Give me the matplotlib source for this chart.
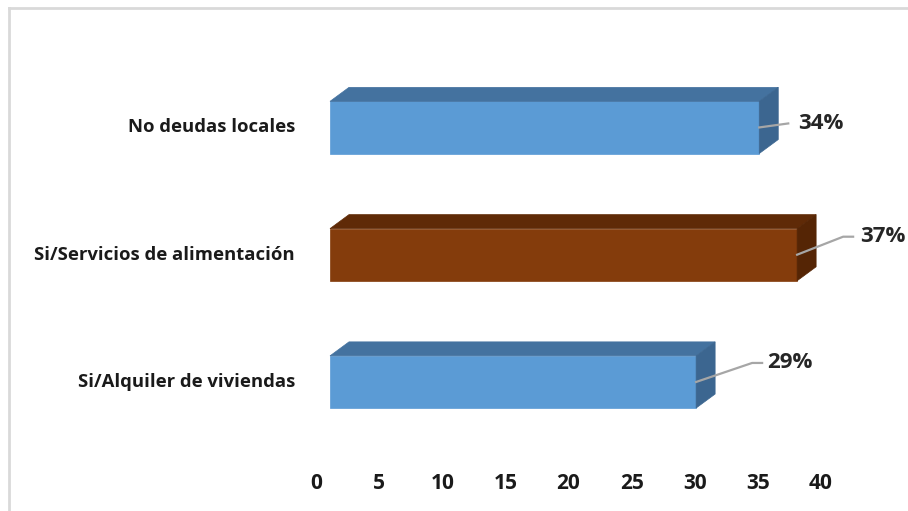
import matplotlib
matplotlib.use("Agg")
import matplotlib.pyplot as plt
from matplotlib.patches import Polygon, Rectangle
from matplotlib.lines import Line2D
from matplotlib.transforms import ScaledTranslation, blended_transform_factory

# Data
categories = ["Si/Alquiler de viviendas", "Si/Servicios de alimentación", "No deudas locales"]
values = [29, 37, 34]
value_labels = ["29%", "37%", "34%"]
x_ticks = [0, 5, 10, 15, 20, 25, 30, 35, 40]

# Styles
front_colors = ["#5B9BD5", "#843C0C", "#5B9BD5"]
top_colors = ["#44729F", "#5F2A07", "#44729F"]
side_colors = ["#3C6690", "#552505", "#3C6690"]
# leader line bend / label anchor offsets in pixels (dx, dy) from the bar end
leader_bend = [(56, 19), (46, 18), (29, 4)]
leader_tail = [(10, 0), (10, 0), (0, 0)]
label_gap = [5, 7, 10]
FONT = "Open Sans"

DPI = 100
W, H = 908, 511
fig = plt.figure(figsize=(W / DPI, H / DPI), dpi=DPI)
fig.patch.set_facecolor("white")

# axes geometry in pixels: x=0 at 330 px, x=40 at 835 px
ax_left, ax_right = 330, 835
ax_top, ax_bottom = 32, 477.4
ax = fig.add_axes([ax_left / W, 1 - ax_bottom / H, (ax_right - ax_left) / W, (ax_bottom - ax_top) / H])
ax.set_xlim(0, 40)
ax.set_ylim(-0.75, 2.75)
ax.axis("off")

bar_h = 0.41
depth_dx, depth_dy = 19, 14  # pixels

def px(dx, dy):
    return ScaledTranslation(dx / DPI, dy / DPI, fig.dpi_scale_trans)

fig.canvas.draw()
to_disp = ax.transData.transform
disp_to_fig = fig.transFigure.inverted()

for i, (v, fc, tc, sc) in enumerate(zip(values, front_colors, top_colors, side_colors)):
    y0, y1 = i - bar_h / 2, i + bar_h / 2
    br = to_disp((v, y0))
    tl = to_disp((0, y1)); tr = to_disp((v, y1))
    off = (depth_dx, depth_dy)
    top = [tl, tr, (tr[0] + off[0], tr[1] + off[1]), (tl[0] + off[0], tl[1] + off[1])]
    side = [br, tr, (tr[0] + off[0], tr[1] + off[1]), (br[0] + off[0], br[1] + off[1])]
    for poly, c in ((top, tc), (side, sc)):
        fig.add_artist(Polygon([disp_to_fig.transform(p) for p in poly], closed=True,
                               facecolor=c, edgecolor=c, linewidth=0.5,
                               transform=fig.transFigure, zorder=2))
    ax.add_patch(Rectangle((0, y0), v, bar_h, facecolor=fc, edgecolor=fc, linewidth=0.5, zorder=3))

    # leader line and value label
    start = to_disp((v, i))
    bend = (start[0] + leader_bend[i][0], start[1] + leader_bend[i][1])
    end = (bend[0] + leader_tail[i][0], bend[1] + leader_tail[i][1])
    pts = [disp_to_fig.transform(p) for p in (start, bend, end)]
    fig.add_artist(Line2D([p[0] for p in pts], [p[1] for p in pts], color="#A6A6A6",
                          linewidth=1.6, transform=fig.transFigure, zorder=5))
    lab = disp_to_fig.transform((end[0] + label_gap[i], end[1]))
    fig.text(lab[0], lab[1], value_labels[i], ha="left", va="center", fontsize=16,
             fontweight="bold", color="#262626", family=FONT)

    # category label
    ax.text(0, i, categories[i], transform=ax.transData + px(-35, 0), ha="right", va="center",
            fontsize=13.3, fontweight="bold", color="#1a1a1a", family=FONT)

# x tick labels sit on the front edge of the floor
tick_tr = blended_transform_factory(ax.transData, fig.transFigure) + px(-14, 0)
for t in x_ticks:
    ax.text(t, 1 - 483 / H, str(t), transform=tick_tr, ha="center", va="center",
            fontsize=15, fontweight="bold", color="#1a1a1a", family=FONT)

# chart area frame (top and left edges)
fig.add_artist(Line2D([8.5 / W, 8.5 / W], [0, 1 - 8.5 / H], color="#D9D9D9", linewidth=2,
                      transform=fig.transFigure))
fig.add_artist(Line2D([8.5 / W, 1], [1 - 8.5 / H, 1 - 8.5 / H], color="#D9D9D9", linewidth=2,
                      transform=fig.transFigure))

fig.savefig("out.png", dpi=DPI, facecolor="white")
